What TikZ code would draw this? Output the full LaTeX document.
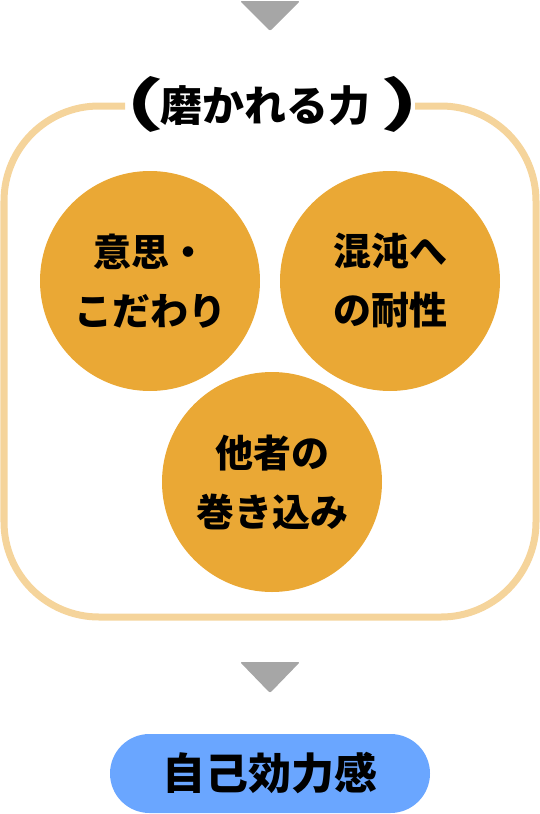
\documentclass[tikz,border=0pt]{standalone}
\usepackage{fontspec}
\setmainfont{Noto Sans CJK JP}
\definecolor{framecol}{HTML}{F5D49B}
\definecolor{ballcol}{HTML}{EAA835}
\definecolor{pillcol}{HTML}{6AA6FF}
\definecolor{tricol}{HTML}{A6A6A6}
\tikzset{
  ball/.style={circle, fill=ballcol, minimum size=220pt, inner sep=0pt,
    align=center, font=\fontsize{38}{59}\selectfont\bfseries},
  pill/.style={fill=pillcol, rounded corners=39.5pt, minimum width=320pt,
    minimum height=79pt, font=\fontsize{43}{43}\selectfont\bfseries},
  titletext/.style={inner sep=0pt, font=\fontsize{42}{42}\selectfont\bfseries},
  paren/.style={inner sep=0pt, font=\fontsize{58}{58}\selectfont\bfseries},
}
\begin{document}
\begin{tikzpicture}[x=1pt,y=-1pt]
\useasboundingbox (0,0) rectangle (540,814);
% arrows
\fill[tricol, rounded corners=2pt] (240,1) -- (300,1) -- (270,31) -- cycle;
\fill[tricol, rounded corners=2pt] (240,662) -- (300,662) -- (270,693) -- cycle;
% frame
\draw[framecol, line width=7pt, rounded corners=95pt] (415,106) -- (536,106) -- (536,617) -- (4,617) -- (4,106) -- (125,106);
\node[titletext] (title) at (265,106) {磨かれる力};
\node[paren, anchor=east] (lparen) at (165,104) {\scalebox{1.5}[1]{（}};
\node[paren, anchor=west] (rparen) at (380,104) {\scalebox{1.5}[1]{）}};
% balls
\node[ball] (will) at (150,281) {意思・\\こだわり};
\node[ball] (chaos) at (390,281) {混沌へ\\の耐性};
\node[ball] (others) at (272,482) {他者の\\巻き込み};
% result
\node[pill] (selfeff) at (270,773.5) {自己効力感};
\end{tikzpicture}
\end{document}
